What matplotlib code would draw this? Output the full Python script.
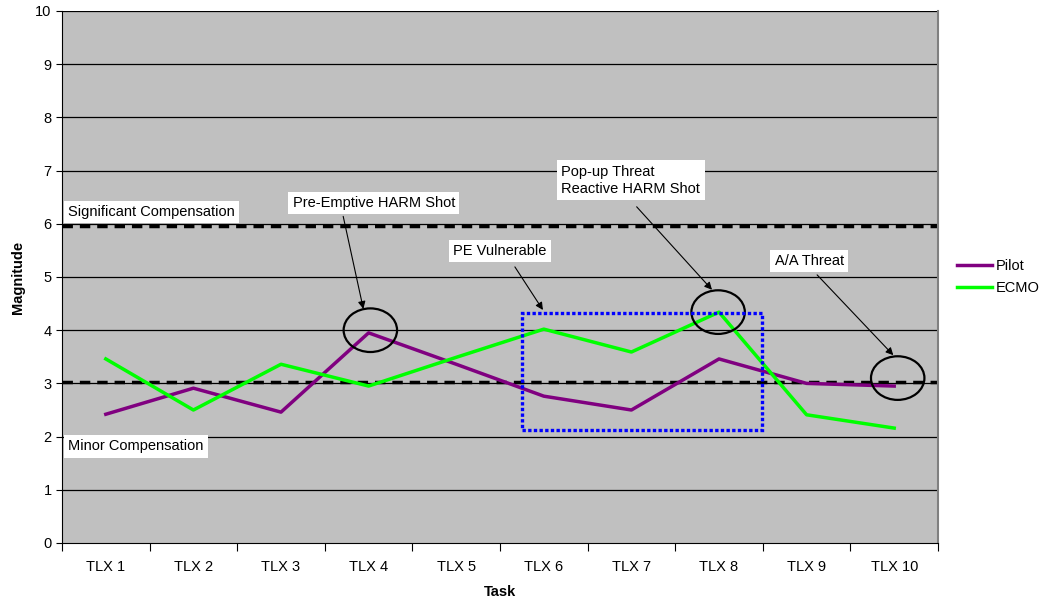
import matplotlib.pyplot as plt
from matplotlib.patches import Ellipse, Rectangle

plt.rcParams['font.family'] = ['Liberation Sans', 'DejaVu Sans']

# data
tasks = ['TLX 1', 'TLX 2', 'TLX 3', 'TLX 4', 'TLX 5',
         'TLX 6', 'TLX 7', 'TLX 8', 'TLX 9', 'TLX 10']
pilot = [2.42, 2.91, 2.46, 3.95, 3.36, 2.76, 2.50, 3.46, 3.00, 2.95]
ecmo = [3.46, 2.50, 3.36, 2.95, 3.49, 4.02, 3.59, 4.34, 2.41, 2.16]
significant = 5.96
minor = 3.03

fig = plt.figure(figsize=(10.44, 6.01), dpi=100)
ax = fig.add_axes([62/1044, 58/601, 876/1044, 532/601])
ax.set_facecolor('#C0C0C0')

x = list(range(len(tasks)))
ax.set_xlim(-0.5, len(tasks) - 0.5)
ax.set_ylim(0, 10)

# grid
for g in range(1, 11):
    ax.axhline(g, color='black', lw=0.9, zorder=1)

# compensation thresholds
ax.axhline(significant, color='black', lw=2.5, dashes=(3, 2), zorder=2)
ax.axhline(minor, color='black', lw=2.5, dashes=(3, 2), zorder=2)

ax.plot(x, pilot, color='#800080', lw=2.5, label='Pilot', zorder=4)
ax.plot(x, ecmo, color='#00FF00', lw=2.5, label='ECMO', zorder=4)

# highlight marks
for cx, cy in [(3.02, 4.0), (6.99, 4.34), (9.04, 3.10)]:
    ax.add_patch(Ellipse((cx, cy), 0.61, 0.82, fill=False, ec='black', lw=1.6, zorder=5))
ax.add_patch(Rectangle((4.75, 2.13), 2.74, 2.2, fill=False, ec='#0000FF', lw=2.4,
                       ls=(0, (1, 0.7)), zorder=5))

box = dict(boxstyle='square,pad=0.3', fc='white', ec='none')
tfs = 10.5
ax.text(-0.43, 6.22, 'Significant Compensation', fontsize=tfs, ha='left', va='center', bbox=box, zorder=6)
ax.text(-0.43, 1.82, 'Minor Compensation', fontsize=tfs, ha='left', va='center', bbox=box, zorder=6)
ax.text(3.06, 6.39, 'Pre-Emptive HARM Shot', fontsize=tfs, ha='center', va='center', bbox=box, zorder=6)
ax.text(4.50, 5.49, 'PE Vulnerable', fontsize=tfs, ha='center', va='center', bbox=box, zorder=6)
ax.text(5.20, 6.82, 'Pop-up Threat\nReactive HARM Shot', fontsize=tfs, ha='left', va='center',
        linespacing=1.25, bbox=box, zorder=6)
ax.text(8.03, 5.30, 'A/A Threat', fontsize=tfs, ha='center', va='center', bbox=box, zorder=6)

arrow = dict(arrowstyle='-|>', color='black', lw=0.8, mutation_scale=11, shrinkA=0, shrinkB=0)
for start, end in [((2.71, 6.14), (2.94, 4.40)),
                   ((4.67, 5.19), (4.99, 4.38)),
                   ((6.06, 6.32), (6.92, 4.76)),
                   ((8.12, 5.04), (8.99, 3.53))]:
    ax.annotate('', xy=end, xytext=start, arrowprops=arrow, zorder=6)

# axes
ax.set_yticks(range(0, 11))
ax.tick_params(axis='y', labelsize=10.5, length=4, direction='out')
ax.set_xticks([i - 0.5 for i in range(len(tasks) + 1)])
ax.set_xticklabels([])
ax.set_xticks(x, minor=True)
ax.set_xticklabels(tasks, minor=True, fontsize=10.5)
ax.tick_params(axis='x', which='major', length=6, direction='out')
ax.tick_params(axis='x', which='minor', length=0, pad=12)
ax.spines['top'].set_visible(False)
ax.spines['right'].set_color('#808080')
ax.spines['right'].set_linewidth(1.5)

ax.set_xlabel('Task', fontsize=10.5, fontweight='bold', labelpad=8)
ax.set_ylabel('Magnitude', fontsize=10.5, fontweight='bold', labelpad=7)

fig.legend(loc='center left', bbox_to_anchor=(944/1044, 1 - 277/601), frameon=False,
           fontsize=10.5, handlelength=2.4, handletextpad=0.25, labelspacing=0.5)

fig.savefig('out.png', dpi=100)
